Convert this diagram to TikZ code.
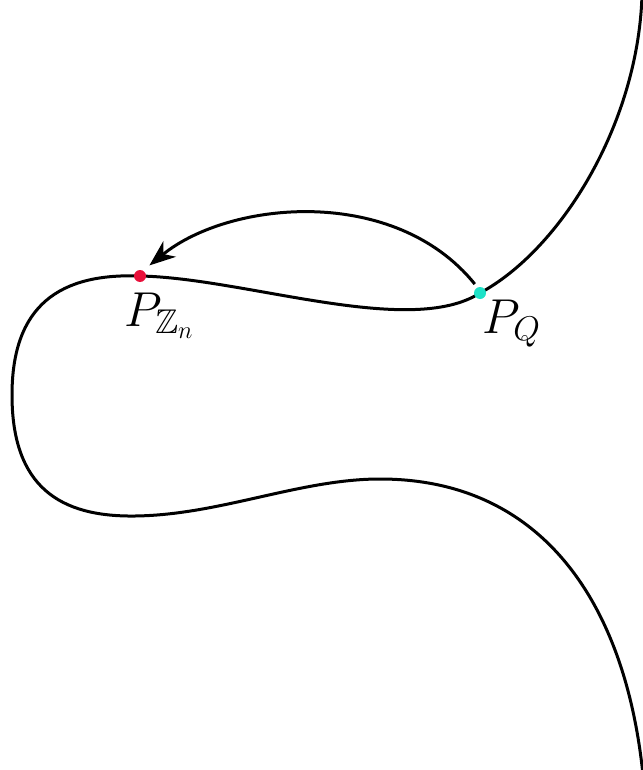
\RequirePackage{fix-cm}
\documentclass[tikz,border=0pt]{standalone}
\usepackage{amssymb}
\usetikzlibrary{arrows.meta}
\definecolor{ptred}{RGB}{232,16,58}
\definecolor{ptcyan}{RGB}{30,226,200}
\tikzset{
  curveline/.style={line width=1.5pt, black},
  dotnode/.style={circle, inner sep=0pt, minimum size=6pt},
  lbl/.style={inner sep=0pt, anchor=base west, font=\fontsize{24.5}{29}\selectfont},
  flow/.style={line width=1.5pt, -{Stealth[length=13pt,width=10pt,inset=4pt]}}
}
\begin{document}
\begin{tikzpicture}[x=0.5pt,y=-0.5pt]
\useasboundingbox (0,0) rectangle (642,770);
\coordinate (q) at (480,293);
\coordinate (z) at (140,276);
\coordinate (top) at (642,-5);
\coordinate (bot) at (643,775);
\draw[curveline] (top) .. controls (638,125) and (560,250) .. (q)
  .. controls (410,338) and (245,278) .. (z)
  .. controls (60,273) and (12,305) .. (12,395)
  .. controls (12,487) and (60,517) .. (135,516)
  .. controls (220,515) and (300,479) .. (380,479)
  .. controls (540,479) and (625,600) .. (bot);
\node[dotnode, fill=ptred] (Z) at (z) {};
\node[dotnode, fill=ptcyan] (Q) at (q) {};
\draw[flow, shorten >=4pt, shorten <=2pt] (Q.115) .. controls (395,185) and (230,200) .. (Z.60);
\node[lbl] (LZ) at (124,326) {$P_{\mathbb{Z}_n}$};
\node[lbl] (LQ) at (482,333) {$P_Q$};
\end{tikzpicture}
\end{document}
